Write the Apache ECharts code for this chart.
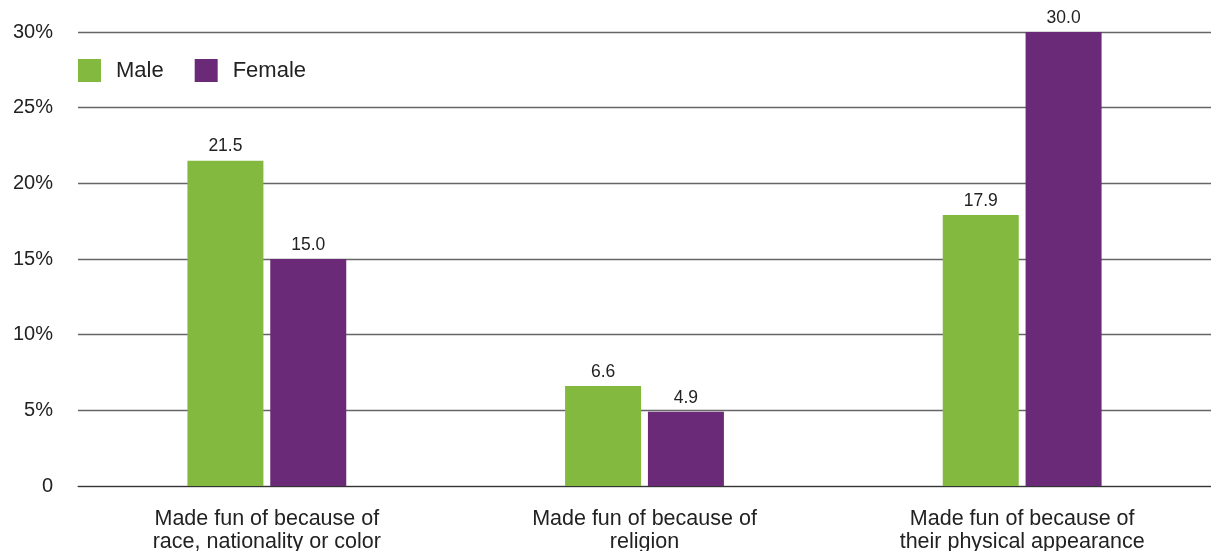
<!DOCTYPE html>
<html><head><meta charset="utf-8">
<script src="https://cdn.jsdelivr.net/npm/echarts@6/dist/echarts.min.js"></script>
<style>html,body{margin:0;padding:0;background:#fff}#c{width:1211px;height:551px}</style>
</head><body><div id="c"></div>
<script>
const categories = ["Made fun of because of\nrace, nationality or color", "Made fun of because of\nreligion", "Made fun of because of\ntheir physical appearance"];
const maleValues = [21.5, 6.6, 17.9];
const femaleValues = [15.0, 4.9, 30.0];
const yTicks = [0, 5, 10, 15, 20, 25, 30];

const font = "'Liberation Sans', Arial, sans-serif";
const chart = echarts.init(document.getElementById('c'));
chart.setOption({
  animation: false,
  textStyle: { fontFamily: font },
  grid: { left: 78, right: 0, top: 32, bottom: 65, containLabel: false, outerBoundsMode: 'none' },
  legend: {
    left: 73, top: 54, itemWidth: 23, itemHeight: 23, itemGap: 31, icon: 'rect',
    textStyle: { fontSize: 22, color: '#222', fontFamily: font, padding: [0, 0, 0, 10] },
    data: ['Male', 'Female']
  },
  xAxis: {
    type: 'category', data: categories,
    axisLine: { show: true, lineStyle: { color: '#333', width: 1 } },
    axisTick: { show: false },
    axisLabel: { fontSize: 21.5, color: '#222', lineHeight: 23.5, margin: 21, interval: 0 }
  },
  yAxis: {
    type: 'value', min: yTicks[0], max: yTicks[yTicks.length - 1], interval: 5,
    axisLine: { show: false }, axisTick: { show: false },
    axisLabel: { fontSize: 20, color: '#222', margin: 25, formatter: v => v === 0 ? '0' : v + '%' },
    splitLine: { lineStyle: { color: '#666', width: 1.3 } }
  },
  series: [
    { name: 'Male', type: 'bar', data: maleValues, barWidth: 76, barGap: '9%',
      itemStyle: { color: '#84b940' },
      label: { show: true, position: 'top', distance: 5, fontSize: 17.5, color: '#222', formatter: p => p.value.toFixed(1) } },
    { name: 'Female', type: 'bar', data: femaleValues, barWidth: 76,
      itemStyle: { color: '#6b2a78' },
      label: { show: true, position: 'top', distance: 5, fontSize: 17.5, color: '#222', formatter: p => p.value.toFixed(1) } }
  ]
});
</script></body></html>
